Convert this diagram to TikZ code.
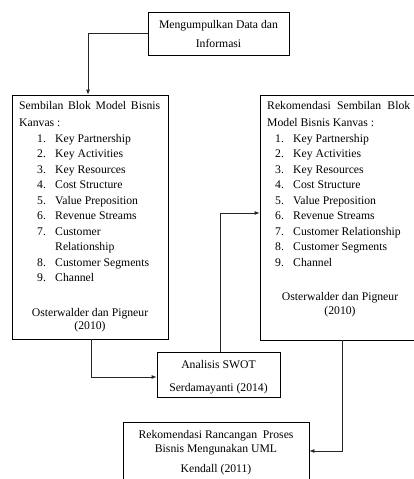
\documentclass[tikz,border=0pt]{standalone}
\usepackage{fontspec}
\setmainfont{Liberation Serif}
\usetikzlibrary{arrows.meta}
\tikzset{
  box/.style={draw=black, line width=0.8pt, inner sep=0pt},
  arr/.style={draw=black!85, line width=0.8pt, -{Latex[length=5pt,width=4pt]}},
  txt/.style={inner sep=0pt, font=\fontsize{11.7}{14}\selectfont},
  lt/.style={txt, anchor=base west},
  ct/.style={txt, anchor=base},
}
\begin{document}
\begin{tikzpicture}[x=1pt,y=-1pt]
\useasboundingbox (0,0) rectangle (414,479);
\clip (0,0) rectangle (414,479);
% boxes
\node[box, minimum width=141pt, minimum height=43pt] (top) at (218.5,33.5) {};
\node[box, minimum width=156pt, minimum height=244pt] (left) at (90,217) {};
\node[box, minimum width=160pt, minimum height=245pt] (right) at (340,217.5) {};
\node[box, minimum width=123pt, minimum height=45pt] (swot) at (218.5,374.5) {};
\node[box, minimum width=186pt, minimum height=68pt] (bot) at (216,456) {};
% top texts
\node[ct] (tA) at (218.5,28) {Mengumpulkan Data dan};
\node[ct] (tB) at (218.5,47) {Informasi};
% left texts
\node[lt] (l0) at (19,109) {\makebox[141pt][s]{Sembilan Blok Model Bisnis}};
\node[lt] (l00) at (19,126) {Kanvas :};
\foreach \n/\t/\y in {1/Key Partnership/142, 2/Key Activities/157.5, 3/Key Resources/173, 4/Cost Structure/188.5, 5/Value Preposition/204, 6/Revenue Streams/219.5, 7/Customer/235, 8/Customer Segments/266, 9/Channel/281.5}{
  \node[lt] (ln\n) at (37,\y) {\n.};
  \node[lt] (lt\n) at (55,\y) {\t};
}
\node[lt] (lrel) at (55,250.5) {Relationship};
\node[ct] (lo1) at (90,316) {Osterwalder dan Pigneur};
\node[ct] (lo2) at (90,329.5) {(2010)};
% right texts
\node[lt] (r0) at (267,109) {\makebox[143pt][s]{Rekomendasi Sembilan Blok}};
\node[lt] (r00) at (267,126) {Model Bisnis Kanvas :};
\foreach \n/\t/\y in {1/Key Partnership/142, 2/Key Activities/157.5, 3/Key Resources/173, 4/Cost Structure/188.5, 5/Value Preposition/204, 6/Revenue Streams/219.5, 7/Customer Relationship/235, 8/Customer Segments/250.5, 9/Channel/266}{
  \node[lt] (rn\n) at (275,\y) {\n.};
  \node[lt] (rt\n) at (293,\y) {\t};
}
\node[ct] (ro1) at (340,300) {Osterwalder dan Pigneur};
\node[ct] (ro2) at (340,314) {(2010)};
% swot texts
\node[ct] (s1) at (218.5,368) {Analisis SWOT};
\node[ct] (s2) at (218.5,391) {Serdamayanti (2014)};
% bottom texts
\node[ct] (b1) at (216,438.5) {Rekomendasi Rancangan\ \ Proses};
\node[ct] (b2) at (216,452) {Bisnis Mengunakan UML};
\node[ct] (b3) at (216,472) {Kendall (2011)};
% connectors
\draw[arr] (top.west) -| ([xshift=-2pt]left.north);
\draw[arr] ([xshift=1pt]left.south) |- ([yshift=-2.5pt]swot.west);
\draw[arr] ([xshift=1.5pt]swot.north) |- ([yshift=4.5pt]right.west);
\draw[arr] ([xshift=2pt]right.south) |- ([yshift=5pt]bot.east);
\end{tikzpicture}
\end{document}
